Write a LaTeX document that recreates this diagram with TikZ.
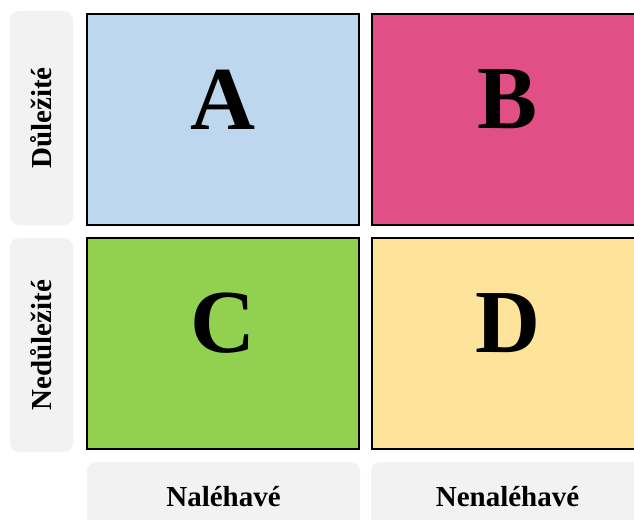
\documentclass[tikz,border=0pt]{standalone}
\usepackage{fontspec}
\setmainfont{Liberation Serif}
\usepackage{xcolor}
\usetikzlibrary{positioning}

\definecolor{blueA}{HTML}{BDD7EE}
\definecolor{pinkB}{HTML}{E05087}
\definecolor{greenC}{HTML}{92D050}
\definecolor{yellowD}{HTML}{FEE49A}
\definecolor{tabgray}{HTML}{F2F2F2}

\begin{document}
\begin{tikzpicture}[x=1pt, y=-1pt,
    quad/.style={draw=black, line width=2pt, rectangle, minimum width=272pt, minimum height=211pt, inner sep=0pt},
    letter/.style={font=\fontsize{90}{90}\selectfont\bfseries, inner sep=0pt},
    tab/.style={fill=tabgray, rounded corners=9pt, inner sep=0pt, font=\fontsize{29}{29}\selectfont\bfseries},
    sidetab/.style={tab, minimum width=214pt, minimum height=63pt, rotate=90},
    bottomtab/.style={tab, minimum width=273pt, minimum height=70pt}
    ]
    \useasboundingbox (0,0) rectangle (634,519);

    % quadrants
    \node [quad, fill=blueA](qA) at (223,119.5) {};
    \node [quad, fill=pinkB](qB) at (508,119.5) {};
    \node [quad, fill=greenC](qC) at (223,343.5) {};
    \node [quad, fill=yellowD](qD) at (508,343.5) {};

    \node [letter](lA) at ([yshift=20pt]qA.center) {A};
    \node [letter](lB) at ([yshift=20pt]qB.center) {B};
    \node [letter](lC) at ([yshift=20pt]qC.center) {C};
    \node [letter](lD) at ([yshift=20pt]qD.center) {D};

    % axis tabs
    \node [sidetab](important) at (41.5,118) {Důležité};
    \node [sidetab](unimportant) at (41.5,345) {Nedůležité};
    \node [bottomtab](urgent) at (223.5,497) {Naléhavé};
    \node [bottomtab](noturgent) at (507.5,497) {Nenaléhavé};
\end{tikzpicture}
\end{document}
